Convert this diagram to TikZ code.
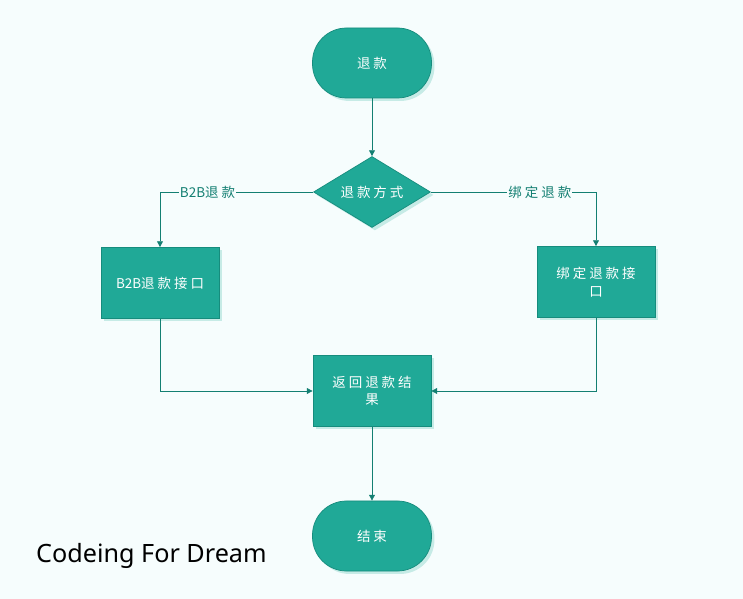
\documentclass[tikz,border=0pt]{standalone}
\usepackage{fontspec}
\newfontfamily\cjk[LetterSpace=22]{Noto Sans CJK SC}
\newfontfamily\cjktight{Noto Sans CJK SC}
\newfontfamily\logofont{Noto Sans}
\usetikzlibrary{positioning, arrows.meta, calc, shapes.geometric, shadows}

\definecolor{bgc}{HTML}{F6FDFD}
\definecolor{boxc}{HTML}{20A997}
\definecolor{edgec}{HTML}{168C7D}
\definecolor{linec}{HTML}{137F72}
\definecolor{shadowc}{HTML}{C6EBE6}

\newcommand{\btob}{{\cjktight B2B}}

\tikzset{
    base/.style={fill=boxc, draw=edgec, line width=0.6pt, text=white,
        font=\cjk\fontsize{11.5}{15}\selectfont, align=center,
        drop shadow={shadow xshift=2.5pt, shadow yshift=-2.5pt, fill=shadowc, opacity=1}},
    terminal/.style={base, rectangle, rounded corners=1.02cm,
        minimum width=3.57cm, minimum height=2.1cm},
    process/.style={base, rectangle, minimum width=3.54cm, minimum height=2.13cm},
    decision/.style={base, diamond, inner sep=0pt, aspect=1.65,
        minimum width=3.51cm, minimum height=2.13cm},
    flow/.style={draw=linec, line width=0.6pt, -{Triangle[length=5pt, width=5pt]}},
    edgelabel/.style={fill=bgc, text=linec, inner sep=1pt,
        font=\cjk\fontsize{11.5}{15}\selectfont}
}

\begin{document}
\begin{tikzpicture}[x=0.03cm, y=-0.03cm]

    % --- 1. 背景 ---
    \fill [bgc] (0, 0) rectangle (743, 599);
    \useasboundingbox (0, 0) rectangle (743, 599);

    % --- 2. ノード ---
    \node [terminal] (start) at (372, 63) {退款};
    \node [decision] (mode) at (372, 192) {退款方式};
    \node [process] (b2b) at (160, 283) {\btob 退款接口};
    \node [process] (bind) at (596, 282) {绑定退款接\\口};
    \node [process] (result) at (372, 391) {返回退款结\\果};
    \node [terminal] (stop) at (372, 536) {结束};

    % 左下のロゴ文字
    \node [anchor=west, inner sep=0pt, font=\logofont\fontsize{21.5}{24}\selectfont] (logo) at (36, 556) {Codeing For Dream};

    % --- 3. 接続線 ---
    \draw [flow] (start) -- (mode);
    \draw [flow] (mode.west) -| node [edgelabel, pos=0.345] {\btob 退款} (b2b.north);
    \draw [flow] (mode.east) -| node [edgelabel, pos=0.33] {绑定退款} (bind.north);
    \draw [flow] (b2b.south) |- (result.west);
    \draw [flow] (bind.south) |- (result.east);
    \draw [flow] (result) -- (stop);

\end{tikzpicture}
\end{document}
